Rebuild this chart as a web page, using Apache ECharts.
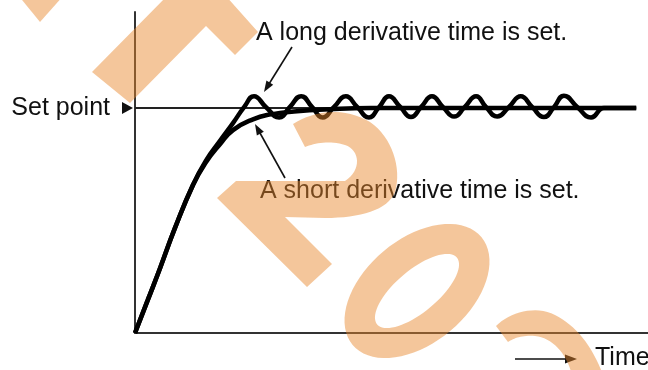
<!DOCTYPE html>
<html>
<head>
<meta charset="utf-8">
<script src="https://cdn.jsdelivr.net/npm/echarts@6/dist/echarts.min.js"></script>
<style>
html, body { margin: 0; padding: 0; background: #ffffff; }
#chart { width: 648px; height: 370px; }
</style>
</head>
<body>
<div id="chart"></div>
<script>
// Step response of a PID loop: time (arbitrary units) vs. process value (% of set point)
const setPoint = 100;

// Long derivative time: overshoots and keeps oscillating around the set point
const longTime  = [0, 2.5, 4.9, 7.8, 11.3, 13.8, 16.6, 19.1, 21.3, 23.2, 25.5, 28.1, 30.2, 32.4, 34.5, 36.6, 38.8, 41.1, 43.3, 45.6, 47.6, 49.5, 51.7, 53.8, 55.8, 57.9, 60.0, 62.2, 64.3, 66.5, 68.4, 70.6, 72.9, 75.2, 77.4, 79.7, 81.7, 83.6, 86.2, 88.9, 91.4, 93.5, 97.7];
const longValue = [0, 14.7, 28.9, 46.7, 65.8, 76.5, 85.5, 93.3, 100.5, 105.3, 100.5, 95.8, 100.5, 105.3, 100.5, 95.8, 100.5, 105.2, 100.5, 95.8, 100.5, 105.2, 100.5, 96.0, 100.5, 105.2, 100.5, 96.2, 100.5, 105.2, 100.5, 96.2, 100.5, 105.2, 100.5, 96.0, 100.5, 105.5, 100.5, 95.8, 100, 100, 100];

// Short derivative time: settles smoothly onto the set point
const shortTime  = [0, 2.5, 4.9, 7.8, 11.3, 13.8, 16.6, 19.1, 23.0, 26.5, 31, 38, 46, 97.7];
const shortValue = [0, 14.7, 28.9, 46.7, 65.8, 75.8, 84.0, 90.2, 95.0, 97.2, 98.5, 99.5, 100, 100];

// Set point reference line span
const setPointTime = [0, 97.7];

// Texts
const setPointLabel = 'Set point';
const longLabel = 'A long derivative time is set.';
const shortLabel = 'A short derivative time is set.';
const timeLabel = 'Time';

const zip = (xs, ys) => xs.map((x, i) => [x, ys[i]]);

const chart = echarts.init(document.getElementById('chart'), null, { renderer: 'canvas', width: 648, height: 370 });

const axisCommon = {
  type: 'value',
  axisLine: { show: true, onZero: false, lineStyle: { color: '#333', width: 2 } },
  axisTick: { show: false },
  axisLabel: { show: false },
  splitLine: { show: false }
};

chart.setOption({
  animation: false,
  backgroundColor: '#ffffff',
  grid: { left: 135, top: 12, right: 0, bottom: 37, containLabel: false },
  xAxis: Object.assign({}, axisCommon, { min: 0, max: 100 }),
  yAxis: Object.assign({}, axisCommon, { min: 0, max: 142.7 }),
  series: [
    {
      name: 'Set point',
      type: 'line',
      data: setPointTime.map(t => [t, setPoint]),
      symbol: 'none',
      lineStyle: { color: '#222', width: 2 },
      z: 1
    },
    {
      name: 'Short derivative time',
      type: 'line',
      data: zip(shortTime, shortValue),
      smooth: true,
      symbol: 'none',
      lineStyle: { color: '#000', width: 4.5 },
      z: 2
    },
    {
      name: 'Long derivative time',
      type: 'line',
      data: zip(longTime, longValue),
      smooth: true,
      symbol: 'none',
      lineStyle: { color: '#000', width: 4.5 },
      z: 3
    }
  ]
});

// Annotation helpers
const textFont = { fontFamily: 'Liberation Sans, Arial, sans-serif', fontSize: 25, fill: '#111' };

function arrow(x1, y1, x2, y2, len, half) {
  const dx = x2 - x1, dy = y2 - y1;
  const d = Math.hypot(dx, dy);
  const ux = dx / d, uy = dy / d;
  const bx = x2 - ux * len, by = y2 - uy * len;
  return [
    { type: 'line', shape: { x1: x1, y1: y1, x2: bx + ux * 1, y2: by + uy * 1 }, style: { stroke: '#111', lineWidth: 1.6 }, z: 50, silent: true },
    { type: 'polygon', shape: { points: [[x2, y2], [bx - uy * half, by + ux * half], [bx + uy * half, by - ux * half]] }, style: { fill: '#111' }, z: 50, silent: true }
  ];
}

function cubic(p0, p1, p2, p3, n) {
  const pts = [];
  for (let i = 1; i <= n; i++) {
    const t = i / n, m = 1 - t;
    pts.push([
      m * m * m * p0[0] + 3 * m * m * t * p1[0] + 3 * m * t * t * p2[0] + t * t * t * p3[0],
      m * m * m * p0[1] + 3 * m * m * t * p1[1] + 3 * m * t * t * p2[1] + t * t * t * p3[1]
    ]);
  }
  return pts;
}

// Outline from a list of commands: ['M',x,y] ['L',x,y] ['C',x1,y1,x2,y2,x,y]
function outline(cmds) {
  let pts = [];
  let cur = null;
  cmds.forEach(c => {
    if (c[0] === 'M' || c[0] === 'L') { cur = [c[1], c[2]]; pts.push(cur); }
    else if (c[0] === 'C') {
      const seg = cubic(cur, [c[1], c[2]], [c[3], c[4]], [c[5], c[6]], 16);
      pts = pts.concat(seg);
      cur = [c[5], c[6]];
    }
  });
  return pts;
}

// Ellipse ring as one polygon: outer loop one way, inner loop the other way
function ellipseRing(cx, cy, rx, ry, rx0, ry0, angle) {
  const pts = [];
  const ca = Math.cos(angle), sa = Math.sin(angle);
  const n = 72;
  const tr = (x, y) => [cx + x * ca - y * sa, cy + x * sa + y * ca];
  for (let i = 0; i <= n; i++) {
    const a = (i / n) * Math.PI * 2;
    pts.push(tr(rx * Math.cos(a), ry * Math.sin(a)));
  }
  for (let i = n; i >= 0; i--) {
    const a = (i / n) * Math.PI * 2;
    pts.push(tr(rx0 * Math.cos(a), ry0 * Math.sin(a)));
  }
  return pts;
}

const sp = chart.convertToPixel({ gridIndex: 0 }, [0, setPoint]);
const wmFill = 'rgba(232,135,44,0.475)';

const elements = [
  // "Set point" label with its marker
  { type: 'text', x: sp[0] - 25, y: sp[1], style: Object.assign({ text: setPointLabel, align: 'right', verticalAlign: 'middle' }, textFont), z: 40 },
  { type: 'polygon', shape: { points: [[sp[0] - 13, sp[1] - 6], [sp[0] - 13, sp[1] + 6], [sp[0] - 2, sp[1]]] }, style: { fill: '#111' }, z: 40 },
  // Curve annotations
  { type: 'text', x: 256, y: 33, style: Object.assign({ text: longLabel, align: 'left', verticalAlign: 'middle' }, textFont), z: 40 },
  { type: 'text', x: 260, y: 191, style: Object.assign({ text: shortLabel, align: 'left', verticalAlign: 'middle' }, textFont), z: 40 },
  { type: 'text', x: 595, y: 358, style: Object.assign({ text: timeLabel, align: 'left', verticalAlign: 'middle' }, textFont), z: 40 }
]
  .concat(arrow(292, 47, 264, 92, 11, 4))
  .concat(arrow(285, 178, 255, 124, 11, 4))
  .concat(arrow(515, 359, 577, 359, 12, 4.5));

// Watermark overlay
const wm = [
  [[18, -5], [40, 22], [64, -5]],
  [[92, 72], [168, -5], [225, -5], [258, 32], [235, 55], [206, 26], [130, 103]],
  outline([
    ['M', 217, 198], ['L', 236, 181], ['L', 345, 181],
    ['C', 362, 170, 360, 150, 345, 145],
    ['C', 330, 140, 315, 143, 305, 147],
    ['L', 293, 124],
    ['C', 315, 110, 345, 107, 370, 122],
    ['C', 392, 137, 402, 168, 395, 192],
    ['C', 388, 210, 360, 218, 325, 218],
    ['L', 285, 217], ['L', 332, 264], ['L', 307, 287]
  ]),
  ellipseRing(417, 291, 84, 52, 52, 21, -40 * Math.PI / 180),
  outline([
    ['M', 496, 326],
    ['C', 510, 312, 535, 305, 555, 315],
    ['C', 575, 325, 592, 345, 603, 375],
    ['L', 572, 375],
    ['C', 566, 352, 552, 338, 535, 336],
    ['C', 522, 335, 514, 338, 508, 342]
  ])
];
wm.forEach(points => {
  elements.push({ type: 'polygon', shape: { points: points }, style: { fill: wmFill }, z: 100, silent: true });
});

chart.setOption({ graphic: { elements: elements } });
</script>
</body>
</html>
